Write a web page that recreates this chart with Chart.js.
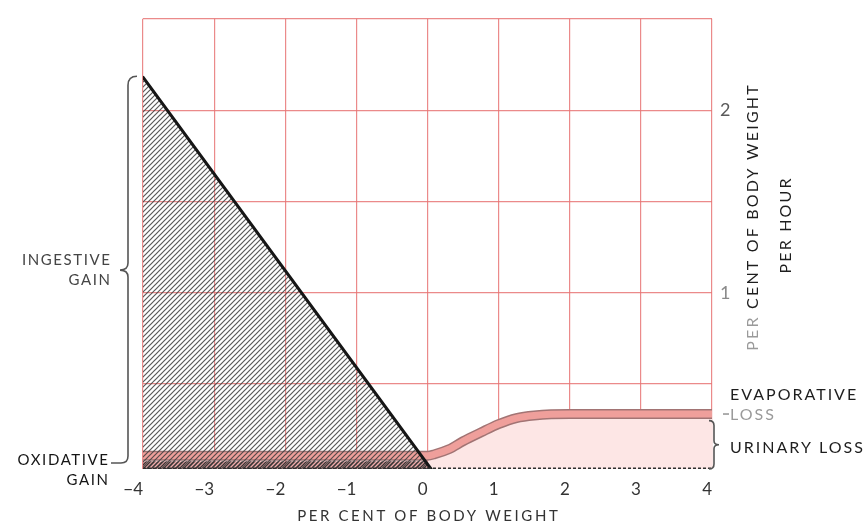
<!DOCTYPE html>
<html>
<head>
<meta charset="utf-8">
<script src="https://cdn.jsdelivr.net/npm/chart.js@4"></script>
<style>
  html, body { margin: 0; padding: 0; background: #fff; }
  #wrap { width: 868px; height: 528px; position: relative; }
</style>
</head>
<body>
<div id="wrap"><canvas id="c"></canvas></div>
<script>
// Water balance: gains and losses (per cent of body weight per hour)
// against deficit/excess of body water (per cent of body weight).

const BASE = 0.035;                 // bottom line of the diagram
const xTickValues = [-4, -3, -2, -1, 0, 1, 2, 3, 4];
const xTickLabels = ['−4', '−3', '−2', '−1', '0', '1', '2', '3', '4'];
const yGridValues = [0.5, 1, 1.5, 2, 2.5];
const yTickLabels = ['', '1', '', '2', ''];

// ingestive gain (drinking rate), falls to zero near 0
const ingestX = [-4, 0.05];
const ingestY = [2.18, BASE];

// oxidative gain strip
const oxidX = [-4, -0.03, 0.05];
const oxidY = [0.078, 0.078, BASE];

// evaporative + urinary loss curve
const evapX = [-4, 0, 0.1, 0.3, 0.5, 0.75, 1, 1.25, 1.5, 2, 3, 4];
const evapY = [0.108, 0.108, 0.116, 0.143, 0.187, 0.235, 0.281, 0.314, 0.328, 0.336, 0.336, 0.336];

// urinary loss region: the part of the loss curve at and beyond 0
const urinX = evapX.filter(x => x >= 0);
const urinY = evapY.slice(evapX.length - urinX.length);

// baseline
const baseX = [-4, 4];
const baseY = [BASE, BASE];

const pts = (xs, ys) => xs.map((x, i) => ({ x, y: ys[i] }));

function hatch(bg, fg, size, lw) {
  const c = document.createElement('canvas');
  c.width = c.height = size;
  const g = c.getContext('2d');
  if (bg) { g.fillStyle = bg; g.fillRect(0, 0, size, size); }
  g.strokeStyle = fg;
  g.lineWidth = lw;
  g.beginPath();
  g.moveTo(-1, size + 1); g.lineTo(size + 1, -1);
  g.moveTo(-1, 1); g.lineTo(1, -1);
  g.moveTo(size - 1, size + 1); g.lineTo(size + 1, size - 1);
  g.stroke();
  return g.createPattern(c, 'repeat');
}

const triHatch = hatch(null, 'rgba(60,60,60,0.85)', 5, 1.2);
const oxHatch = hatch('rgba(236,150,150,0.8)', 'rgba(40,40,40,0.9)', 4, 1.3);

const FONT = 'Lato, "DejaVu Sans", sans-serif';
const GRID = 'rgba(232,118,118,0.85)';

function textSpaced(ctx, str, x, y, align, spacing) {
  ctx.letterSpacing = spacing + 'px';
  let w = ctx.measureText(str).width - spacing;
  let sx = align === 'right' ? x - w : align === 'center' ? x - w / 2 : x;
  ctx.textAlign = 'left';
  ctx.fillText(str, sx, y);
}

function segments(ctx, parts, x, y, spacing) {
  ctx.letterSpacing = spacing + 'px';
  const total = parts.reduce((s, p) => s + ctx.measureText(p[0]).width, 0) - spacing;
  let cx = x - total / 2;
  ctx.textAlign = 'left';
  for (const [t, col] of parts) {
    ctx.fillStyle = col;
    ctx.fillText(t, cx, y);
    cx += ctx.measureText(t).width;
  }
}

const annotations = {
  id: 'annotations',
  afterDraw(chart) {
    const ctx = chart.ctx;
    const xs = chart.scales.x, ys = chart.scales.y;
    const xL = xs.getPixelForValue(-4);
    const xR = xs.getPixelForValue(4);
    const yB = ys.getPixelForValue(BASE);
    const yTop = ys.getPixelForValue(ingestY[0]);
    const area = chart.chartArea;
    ctx.save();

    // ingestive gain brace, its lower end leading to the oxidative label
    ctx.strokeStyle = '#555';
    ctx.lineWidth = 1.6;
    const bx = xL - 15, yEnd = yB - 6, ym = (yTop + yEnd) / 2;
    ctx.beginPath();
    ctx.moveTo(xL - 6, yTop - 1);
    ctx.quadraticCurveTo(bx, yTop - 1, bx, yTop + 8);
    ctx.lineTo(bx, ym - 7);
    ctx.quadraticCurveTo(bx, ym, bx - 8, ym);
    ctx.quadraticCurveTo(bx, ym, bx, ym + 7);
    ctx.lineTo(bx, yEnd - 7);
    ctx.quadraticCurveTo(bx, yEnd, bx - 7, yEnd);
    ctx.lineTo(bx - 17, yEnd);
    ctx.stroke();

    // urinary loss brace
    const uTop = ys.getPixelForValue(0.30), uBot = yB;
    const ux = xR + 2, um = (uTop + uBot) / 2;
    ctx.beginPath();
    ctx.moveTo(ux - 5, uTop);
    ctx.quadraticCurveTo(ux, uTop, ux, uTop + 5);
    ctx.lineTo(ux, um - 4);
    ctx.quadraticCurveTo(ux, um, ux + 5, um);
    ctx.quadraticCurveTo(ux, um, ux, um + 4);
    ctx.lineTo(ux, uBot - 5);
    ctx.quadraticCurveTo(ux, uBot, ux - 5, uBot);
    ctx.stroke();

    // evaporative loss leader
    const ey = ys.getPixelForValue(evapY[evapY.length - 1]);
    ctx.strokeStyle = '#999';
    ctx.beginPath();
    ctx.moveTo(xR + 11, ey);
    ctx.lineTo(xR + 17, ey);
    ctx.stroke();

    ctx.textBaseline = 'alphabetic';
    // left labels
    ctx.font = '15px ' + FONT;
    ctx.fillStyle = '#454545';
    textSpaced(ctx, 'INGESTIVE', 110, 265, 'right', 1.6);
    textSpaced(ctx, 'GAIN', 110, 285, 'right', 1.6);
    ctx.fillStyle = '#151515';
    textSpaced(ctx, 'OXIDATIVE', 108, 465, 'right', 1.6);
    textSpaced(ctx, 'GAIN', 108, 485, 'right', 1.6);

    // right labels
    ctx.font = '16px ' + FONT;
    ctx.fillStyle = '#1e1e1e';
    textSpaced(ctx, 'EVAPORATIVE', xR + 18, 400, 'left', 2);
    ctx.fillStyle = '#9a9a9a';
    textSpaced(ctx, 'LOSS', xR + 18, 420, 'left', 2);
    ctx.fillStyle = '#1e1e1e';
    textSpaced(ctx, 'URINARY LOSS', xR + 18, 453, 'left', 2);

    // x axis title
    ctx.font = '15px ' + FONT;
    ctx.fillStyle = '#333';
    textSpaced(ctx, 'PER CENT OF BODY WEIGHT', (area.left + area.right) / 2, 521, 'center', 2.6);

    // y axis title, reading upwards
    ctx.save();
    ctx.translate(758, 218);
    ctx.rotate(-Math.PI / 2);
    ctx.font = '16px ' + FONT;
    ctx.textBaseline = 'alphabetic';
    segments(ctx, [['PER ', '#9a9a9a'], ['CENT OF BODY WEIGHT', '#1e1e1e']], 0, 0, 2.2);
    ctx.fillStyle = '#1e1e1e';
    segments(ctx, [['PER HOUR', '#1e1e1e']], -8, 33, 2.2);
    ctx.restore();

    ctx.restore();
  }
};

new Chart(document.getElementById('c'), {
  type: 'line',
  data: {
    datasets: [
      { // urinary loss region
        data: pts(urinX, urinY), borderWidth: 0, pointRadius: 0,
        fill: { value: BASE }, backgroundColor: '#fde6e5',
        cubicInterpolationMode: 'monotone', order: 7
      },
      { // oxidative gain strip
        data: pts(oxidX, oxidY), borderWidth: 0, pointRadius: 0,
        fill: { value: BASE }, backgroundColor: oxHatch, order: 6
      },
      { // loss curve outline
        data: pts(evapX, evapY), borderColor: '#a27474', borderWidth: 10,
        pointRadius: 0, fill: false, cubicInterpolationMode: 'monotone',
        borderCapStyle: 'butt', order: 5
      },
      { // loss curve core
        data: pts(evapX, evapY), borderColor: '#ef9f9b', borderWidth: 7,
        pointRadius: 0, fill: false, cubicInterpolationMode: 'monotone',
        borderCapStyle: 'butt', order: 4
      },
      { // ingestive gain
        data: pts(ingestX, ingestY), borderColor: '#161616', borderWidth: 3,
        pointRadius: 0, fill: { value: BASE }, backgroundColor: triHatch,
        borderCapStyle: 'round', order: 3
      },
      { // baseline
        data: pts(baseX, baseY), borderColor: '#2e2e2e', borderWidth: 3,
        borderDash: [3, 2], pointRadius: 0, fill: false, order: 2
      }
    ]
  },
  options: {
    responsive: true,
    maintainAspectRatio: false,
    animation: false,
    devicePixelRatio: 1,
    layout: { padding: { left: 143, top: 14, right: 0, bottom: 0 } },
    plugins: { legend: { display: false }, tooltip: { enabled: false } },
    scales: {
      x: {
        type: 'linear', min: -4, max: 4,
        afterBuildTicks: s => { s.ticks = xTickValues.map(v => ({ value: v })); },
        afterFit: s => { s.height = 59; },
        ticks: {
          align: 'end', padding: 10, color: '#333',
          font: { family: FONT, size: 17 },
          callback: v => xTickLabels[xTickValues.indexOf(v)]
        },
        grid: { color: GRID, lineWidth: 1.2, drawTicks: false },
        border: { display: false }
      },
      y: {
        position: 'right', min: BASE, max: 2.5,
        afterBuildTicks: s => { s.ticks = yGridValues.map(v => ({ value: v })); },
        afterFit: s => { s.width = 156; },
        ticks: {
          padding: 8,
          color: c => (c.tick && c.tick.value === 1) ? '#8a8a8a' : '#5a5a5a',
          font: { family: FONT, size: 18 },
          callback: v => yTickLabels[yGridValues.indexOf(v)]
        },
        grid: { color: GRID, lineWidth: 1.2, drawTicks: false },
        border: { display: false }
      }
    }
  },
  plugins: [annotations]
});
</script>
</body>
</html>
